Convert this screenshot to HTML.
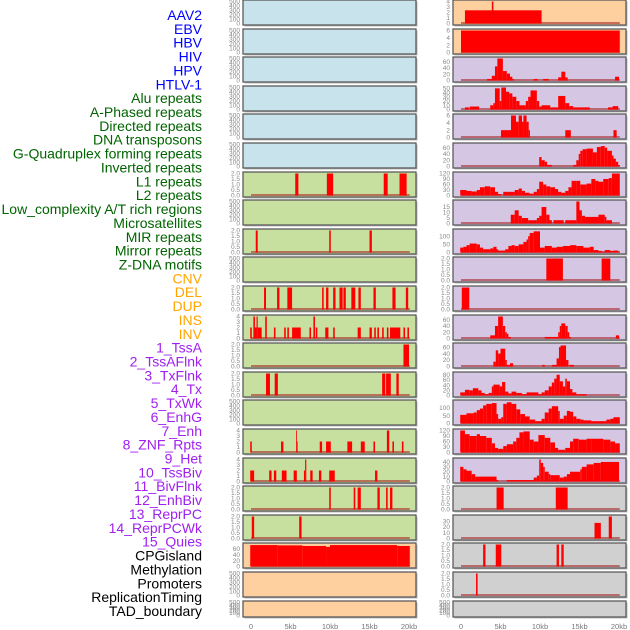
<!DOCTYPE html>
<html><head><meta charset="utf-8"><style>
html,body{margin:0;padding:0;background:#fff;width:630px;height:630px;overflow:hidden}
svg{display:block;font-family:"Liberation Sans",sans-serif}
</style></head><body>
<svg id="c" width="630" height="630" xmlns="http://www.w3.org/2000/svg"></svg>
<script>
const labelNames = ["AAV2","EBV","HBV","HIV","HPV","HTLV-1","Alu repeats","A-Phased repeats","Directed repeats","DNA transposons","G-Quadruplex forming repeats","Inverted repeats","L1 repeats","L2 repeats","Low_complexity A/T rich regions","Microsatellites","MIR repeats","Mirror repeats","Z-DNA motifs","CNV","DEL","DUP","INS","INV","1_TssA","2_TssAFlnk","3_TxFlnk","4_Tx","5_TxWk","6_EnhG","7_Enh","8_ZNF_Rpts","9_Het","10_TssBiv","11_BivFlnk","12_EnhBiv","13_ReprPC","14_ReprPCWk","15_Quies","CPGisland","Methylation","Promoters","ReplicationTiming","TAD_boundary"];
const labelColors = [].concat(Array(6).fill("#0000ff"),Array(13).fill("#006400"),Array(5).fill("#ffa500"),Array(15).fill("#a020f0"),Array(5).fill("#000000"));
const xTickValues = [0,5,10,15,20];
const xTickLabels = ["0","5kb","10kb","15kb","20kb"];
const ticks500 = ["0","100","200","300","400","500"];
const ticks2 = ["0.0","0.5","1.0","1.5","2.0"];
const ticks4 = ["0","1","2","3","4"];
const ticks6 = ["0","2","4","6"];
const ticks60 = ["0","20","40","60"];
const ticks50 = ["0","10","20","30","40","50"];
const ticks120 = ["0","30","60","90","120"];
const ticks15 = ["0","5","10","15"];
const ticks100 = ["0","50","100"];
const ticks80 = ["0","20","40","60","80"];
const ticks40 = ["0","10","20","30","40"];
const ticks30 = ["0","10","20","30"];
const tickVals500=[0,100,200,300,400,500],tickVals2=[0,0.5,1,1.5,2],tickVals4=[0,1,2,3,4],tickVals6=[0,2,4,6],tickVals60=[0,20,40,60],tickVals50=[0,10,20,30,40,50],tickVals120=[0,30,60,90,120],tickVals15=[0,5,10,15],tickVals100=[0,50,100],tickVals80=[0,20,40,60,80],tickVals40=[0,10,20,30,40],tickVals30=[0,10,20,30];

// segment data: [startKb, endKb, value]
const L6=[[5.6,6.0,2],[9.6,10.4,2],[16.8,17.3,2],[18.8,19.7,2]];
const L8=[[0.6,0.85,2],[9.9,10.1,2],[15,15.3,2]];
const L10=[[1.65,1.9,2],[3.3,3.6,2],[4.6,5.2,2],[9,9.2,2],[9.5,9.8,2],[10.4,10.7,2],[11.2,11.6,2],[11.7,12,2],[12.7,13.2,2],[13.6,13.9,2],[15.5,15.8,2],[17.9,18.3,2],[19.6,19.9,2]];
const L11=[[-0.1,0.1,2],[0.3,0.5,4],[0.5,0.7,2],[0.7,0.85,4],[0.85,1.35,2],[1.8,2.0,4],[2.9,3.1,2],[4.2,4.4,2],[4.6,4.8,2],[5.2,6.3,2],[7.4,7.6,2],[7.9,8.1,4],[8.2,8.4,2],[9.4,9.8,2],[10.4,10.6,2],[13.5,13.9,2],[15,15.3,2],[15.6,15.8,2],[16,16.2,2],[16.6,16.8,2],[17.2,17.4,2],[17.6,18.9,2],[19.3,19.5,2],[19.8,20,2]];
const L12=[[19.3,20,2]];
const L13=[[1.9,2.4,2],[3,3.4,2],[16.6,17.0,2],[17.1,17.7,2],[18.4,18.7,2]];
const L15=[[-0.1,0.1,2],[3.8,4.1,2],[5.7,5.8,4],[5.8,5.9,2],[8.7,9,2],[9.5,10.1,2],[12.2,12.8,2],[13.9,14.4,2],[15.5,15.7,2],[17.2,17.5,4],[17.9,18.1,2],[19.1,19.3,2]];
const L16=[[-0.1,0.4,2],[2.3,2.6,2],[2.9,3.2,2],[3.9,4.5,2],[5.4,5.8,2],[6.7,6.85,2],[6.85,7.0,4],[7.5,7.8,2],[8.6,8.9,2],[9.9,10.6,2],[15.7,16,2]];
const L17=[[9.9,10.1,2],[13,13.2,2],[13.5,13.9,2],[16,16.3,2],[17.1,17.3,2],[17.6,17.9,2]];
const L18=[[0.1,0.4,2],[6.1,6.4,2]];
const L19=[[-0.1,3.4,73],[3.4,6.5,72],[6.5,9.5,70],[9.5,10,67],[10,18.5,73],[18.5,20.1,70]];
const R0=[[0.5,10.2,2.4],[3.9,4.1,4]];
const R1=[[0,20.1,6]];
const R2=[[3.3,3.9,5],[3.9,4.3,15],[4.3,4.6,45],[4.6,5.3,70],[5.3,5.8,30],[5.8,6.2,22],[6.2,6.5,12],[6.5,6.7,5],[9.2,9.7,5],[10.4,11.1,5],[12.3,12.7,10],[12.7,13.2,28],[13.2,13.5,10],[19.5,20,12]];
const R3=[[0.5,1,5],[1.1,2.3,7],[3.7,4.1,10],[4.1,4.3,15],[4.3,4.9,50],[4.9,5.1,20],[5.1,5.7,52],[5.7,6.1,42],[6.1,6.5,38],[6.5,7.0,30],[7.0,7.4,20],[7.4,8.2,10],[8.2,8.5,20],[8.5,8.8,30],[8.8,9.6,45],[9.6,9.9,20],[9.9,10.2,7],[10.2,11.3,10],[11.3,12.3,5],[12.3,13.2,32],[13.2,13.7,15],[13.7,14.2,8],[14.2,16.3,5],[18.6,19.2,5],[19.2,19.9,8]];
const R4=[[5.06,6.33,2],[6.33,6.96,6],[6.96,7.3,4.3],[7.3,7.72,6],[7.72,7.9,4.3],[7.9,8.3,6],[8.3,8.57,4.3],[8.57,8.73,2],[13.2,13.9,2],[19.3,19.7,2]];
const R5=[[9.9,10.2,30],[10.2,10.6,20],[10.6,10.9,15],[10.9,11.5,5],[14.2,14.6,5],[14.6,14.9,20],[14.9,15.1,40],[15.1,15.4,50],[15.4,15.9,55],[15.9,16.7,57],[16.7,17.2,45],[17.2,17.7,62],[17.7,18.2,65],[18.2,18.5,60],[18.5,19.1,50],[19.1,19.3,35],[19.3,19.6,25],[19.6,19.9,15],[19.9,20.1,5]];
const R6=[[-0.1,0.7,30],[0.7,1.35,25],[1.35,2.0,22],[2.0,2.4,30],[2.4,3.0,45],[3.0,3.7,50],[3.7,4.3,45],[4.3,4.7,20],[4.7,5.1,8],[5.35,6.0,20],[6.0,6.8,20],[6.8,7.3,30],[7.3,7.7,38],[7.7,8.1,25],[8.1,8.7,15],[8.7,9.2,10],[9.2,9.6,20],[9.6,9.9,35],[9.9,10.4,75],[10.4,10.8,60],[10.8,11.3,50],[11.3,11.9,45],[11.9,12.3,35],[12.3,12.7,20],[12.7,13.2,15],[13.2,13.6,25],[13.6,14.0,45],[14.0,14.6,80],[14.6,15.1,80],[15.1,15.9,60],[15.9,16.5,65],[16.5,17.0,90],[17.0,17.4,80],[17.4,18.0,75],[18.0,18.7,90],[18.7,19.1,95],[19.1,20.1,120]];
const R7=[[6.3,6.8,8],[6.8,7.3,12],[7.3,7.7,7],[7.7,8.5,5],[8.5,9.6,3],[9.6,9.9,5],[9.9,10.2,7],[10.2,10.8,15],[10.8,11.2,8],[11.2,11.5,3],[11.7,13,3],[13.2,14.6,3],[14.6,15,20],[15,15.3,12],[15.3,15.7,7],[15.7,17.4,6],[17.4,18.2,8],[18.2,18.4,6],[18.4,19.1,3]];
const R8=[[-0.1,0.3,30],[0.3,0.7,35],[0.7,1.1,45],[1.1,2.0,55],[2.0,2.4,50],[2.4,2.8,30],[2.8,3.7,20],[3.7,4.1,25],[4.1,4.5,35],[4.5,4.7,20],[4.7,5.6,12],[5.6,6.0,20],[6.0,6.4,40],[6.4,6.8,45],[6.8,7.3,40],[7.3,7.9,50],[7.9,8.3,65],[8.3,8.5,80],[8.5,8.7,100],[8.7,9.2,120],[9.2,10.0,130],[10.0,10.6,30],[10.6,11.5,40],[11.5,12.1,30],[12.1,12.9,35],[12.9,13.8,40],[13.8,14.6,45],[14.6,15.5,40],[15.5,16.3,30],[16.3,16.8,35],[16.8,17.4,15],[17.4,17.8,10],[17.8,18.2,5],[18.2,18.9,15],[18.9,19.3,10],[19.3,19.9,12],[19.9,20.1,5]];
const R9=[[10.8,12.9,2],[17.8,18.9,2]];
const R10=[[0.1,1.05,2]];
const R11=[[3.7,4.3,10],[4.3,4.7,40],[4.7,5.3,70],[5.3,5.6,40],[5.6,5.8,20],[5.8,6.0,15],[6.0,6.3,5],[10.6,12.3,5],[12.3,12.5,20],[12.5,12.7,40],[12.7,13.2,48],[13.2,13.5,40],[13.5,13.7,20],[13.7,13.9,5],[19.6,20,10]];
const R12=[[4.1,4.4,15],[4.4,4.7,50],[4.7,5.0,40],[5.0,5.6,55],[5.6,5.8,20],[5.8,6.2,5],[6.2,6.6,10],[10.3,10.6,5],[11.5,12.1,5],[12.1,12.4,25],[12.4,12.6,60],[12.6,13.3,65],[13.3,13.6,20],[13.7,14.3,5]];
const R13=[[-0.1,0.5,12],[0.5,1.05,22],[1.05,1.5,20],[1.5,2.2,28],[2.2,2.6,20],[2.6,3.0,10],[3.0,3.5,5],[3.5,3.9,10],[3.9,4.1,35],[4.1,4.9,42],[4.9,5.2,35],[5.2,5.6,52],[5.6,6.0,15],[6.0,6.4,8],[6.4,7.0,15],[7.0,7.7,10],[7.7,8.3,5],[8.3,9.8,12],[9.8,10.2,5],[10.2,10.6,12],[10.6,11.1,20],[11.1,11.5,35],[11.5,11.8,50],[11.8,12.1,65],[12.1,12.5,80],[12.5,12.9,55],[12.9,13.2,35],[13.2,13.4,65],[13.4,13.8,55],[13.8,14.1,25],[14.1,14.6,12],[14.6,15.9,5]];
const R14=[[-0.1,0.7,55],[0.7,1.6,65],[1.6,2.0,70],[2.0,2.4,85],[2.4,2.8,95],[2.8,3.2,115],[3.2,3.9,125],[3.9,4.5,130],[4.5,4.7,60],[4.7,5.1,30],[5.1,5.35,40],[5.35,5.8,125],[5.8,6.4,135],[6.4,7.0,125],[7.0,7.5,90],[7.5,8.1,60],[8.1,8.7,45],[8.7,9.4,25],[9.4,10.2,15],[10.2,10.6,30],[10.6,11.1,70],[11.1,11.5,95],[11.5,12.3,110],[12.3,12.5,80],[12.5,13.0,30],[13.0,13.4,50],[13.4,13.8,80],[13.8,14.2,75],[14.2,14.6,45],[14.6,15.1,30],[15.1,15.5,25],[15.5,16.5,20],[16.5,18.4,15],[18.4,18.9,25],[18.9,19.3,30],[19.3,20.1,40]];
const R15=[[-0.1,0.5,120],[0.5,1.1,100],[1.1,2.0,90],[2.0,2.4,100],[2.4,3.2,90],[3.2,3.9,80],[3.9,4.3,50],[4.3,4.7,25],[4.7,5.35,20],[5.35,5.8,35],[5.8,6.6,45],[6.6,7.0,60],[7.0,7.4,80],[7.4,7.9,110],[7.9,8.7,115],[8.7,9.2,70],[9.2,9.8,60],[9.8,10.6,95],[10.6,11.3,80],[11.3,11.9,55],[11.9,12.3,25],[12.3,13.2,15],[13.2,13.8,25],[13.8,14.2,60],[14.2,14.9,75],[14.9,15.9,70],[15.9,16.5,75],[16.5,18.0,75],[18.0,18.9,70],[18.9,19.5,60],[19.5,20.1,50]];
const R16=[[-0.1,0.3,30],[0.3,0.7,25],[0.7,1.35,22],[1.35,1.8,15],[1.8,4.5,10],[4.5,4.7,3],[5.8,9.2,3],[9.2,9.6,8],[9.6,9.9,12],[9.9,10.1,45],[10.1,10.4,38],[10.4,10.6,30],[10.6,11.1,20],[11.1,11.3,15],[11.3,12.5,13],[12.5,13.0,8],[13.0,13.4,10],[13.4,13.8,15],[13.8,15.1,20],[15.1,15.3,25],[15.3,15.9,30],[15.9,16.8,35],[16.8,17.7,38],[17.7,20.0,40]];
const R17=[[4.5,5.4,2],[12,13.5,2]];
const R18=[[16.9,17.7,27],[18.7,19.1,38]];
const R19=[[2.8,3.1,2],[4.4,5.1,2],[12.1,12.4,2],[12.7,13.0,2]];
const R20=[[1.9,2.1,2]];

const BLUE="#c8e3eb",GREEN="#c7e09f",PEACH="#fecf9f",LAV="#d5c6e3",GRAY="#d0d0d0";
const leftPanels=[
 [BLUE,500,ticks500,tickVals500,null],[BLUE,500,ticks500,tickVals500,null],[BLUE,500,ticks500,tickVals500,null],[BLUE,500,ticks500,tickVals500,null],[BLUE,500,ticks500,tickVals500,null],[BLUE,500,ticks500,tickVals500,null],
 [GREEN,2,ticks2,tickVals2,L6],[GREEN,500,ticks500,tickVals500,null],[GREEN,2,ticks2,tickVals2,L8],[GREEN,500,ticks500,tickVals500,null],[GREEN,2,ticks2,tickVals2,L10],[GREEN,4,ticks4,tickVals4,L11],
 [GREEN,2,ticks2,tickVals2,L12],[GREEN,2,ticks2,tickVals2,L13],[GREEN,500,ticks500,tickVals500,null],[GREEN,4,ticks4,tickVals4,L15],[GREEN,4,ticks4,tickVals4,L16],[GREEN,2,ticks2,tickVals2,L17],[GREEN,2,ticks2,tickVals2,L18],
 [PEACH,75,ticks60,tickVals60,L19],[PEACH,500,ticks500,tickVals500,null],[PEACH,500,ticks500,tickVals500,null]];
const rightPanels=[
 [PEACH,4,ticks4,tickVals4,R0],[PEACH,6,ticks6,tickVals6,R1],[LAV,70,ticks60,tickVals60,R2],[LAV,52,ticks50,tickVals50,R3],[LAV,6,ticks6,tickVals6,R4],[LAV,70,ticks60,tickVals60,R5],
 [LAV,120,ticks120,tickVals120,R6],[LAV,20,ticks15,tickVals15,R7],[LAV,135,ticks100,tickVals100,R8],[LAV,2,ticks2,tickVals2,R9],[LAV,2,ticks2,tickVals2,R10],[LAV,70,ticks60,tickVals60,R11],
 [LAV,68,ticks60,tickVals60,R12],[LAV,85,ticks80,tickVals80,R13],[LAV,140,ticks100,tickVals100,R14],[LAV,120,ticks120,tickVals120,R15],[LAV,45,ticks40,tickVals40,R16],[GRAY,2,ticks2,tickVals2,R17],
 [GRAY,38,ticks30,tickVals30,R18],[GRAY,2,ticks2,tickVals2,R19],[GRAY,2,ticks2,tickVals2,R20],[GRAY,500,ticks500,tickVals500,null]];

const NS="http://www.w3.org/2000/svg";
const svg=document.getElementById("c");
function mk(t,a,p){const e=document.createElementNS(NS,t);for(const k in a)e.setAttribute(k,a[k]);(p||svg).appendChild(e);return e;}

labelNames.forEach((n,i)=>{
 const t=mk("text",{x:202,y:15+i*13.86+5,"text-anchor":"end","font-size":"14",fill:labelColors[i]});
 t.textContent=n;
 
 
});

function drawColumn(panels,x0,px0,side){
 const xs=kb=>px0+kb*7.9;
 panels.forEach((p,i)=>{
  const [bg,ymax,tl,tv,data]=p;
  const top=i<21?Math.round(i*28.6):601;
  const h=i<21?25:16;
  const g=mk("g",{});
  
  
  mk("rect",{x:x0+1.5,y:top+1.5,width:173,height:h,fill:"#bbb"},g);
  mk("rect",{x:x0,y:top,width:173,height:h,fill:bg,stroke:"#5a5a5a","stroke-width":1.3},g);
  const z=top+h-1.5, t=top+1.5;
  const ys=v=>z-(v/ymax)*(z-t);
  tv.forEach((v,k)=>{
   const tx=mk("text",{x:x0-3,y:ys(v)+2.2,"text-anchor":"end","font-size":"6.5",fill:"#888"},g);
   tx.textContent=tl[k];
   
   
  });
  if(data){
   mk("line",{x1:xs(0),x2:xs(20.1),y1:z-0.5,y2:z-0.5,stroke:"rgba(170,40,40,0.6)","stroke-width":2},g);
   data.forEach(s=>{
    const r=mk("rect",{x:xs(s[0]),y:ys(s[2]),width:Math.max(0.8,xs(s[1])-xs(s[0])),height:z-ys(s[2]),fill:"#ff0000"},g);
    
    
   });
  }
 });
 xTickValues.forEach((v,k)=>{
  const tx=mk("text",{x:xs(v),y:629,"text-anchor":"middle","font-size":"7.5",fill:"#777"});
  tx.textContent=xTickLabels[k];
  
  
 });
}
drawColumn(leftPanels,243,251,'left');
drawColumn(rightPanels,453,461,'right');
</script>
</body></html>
